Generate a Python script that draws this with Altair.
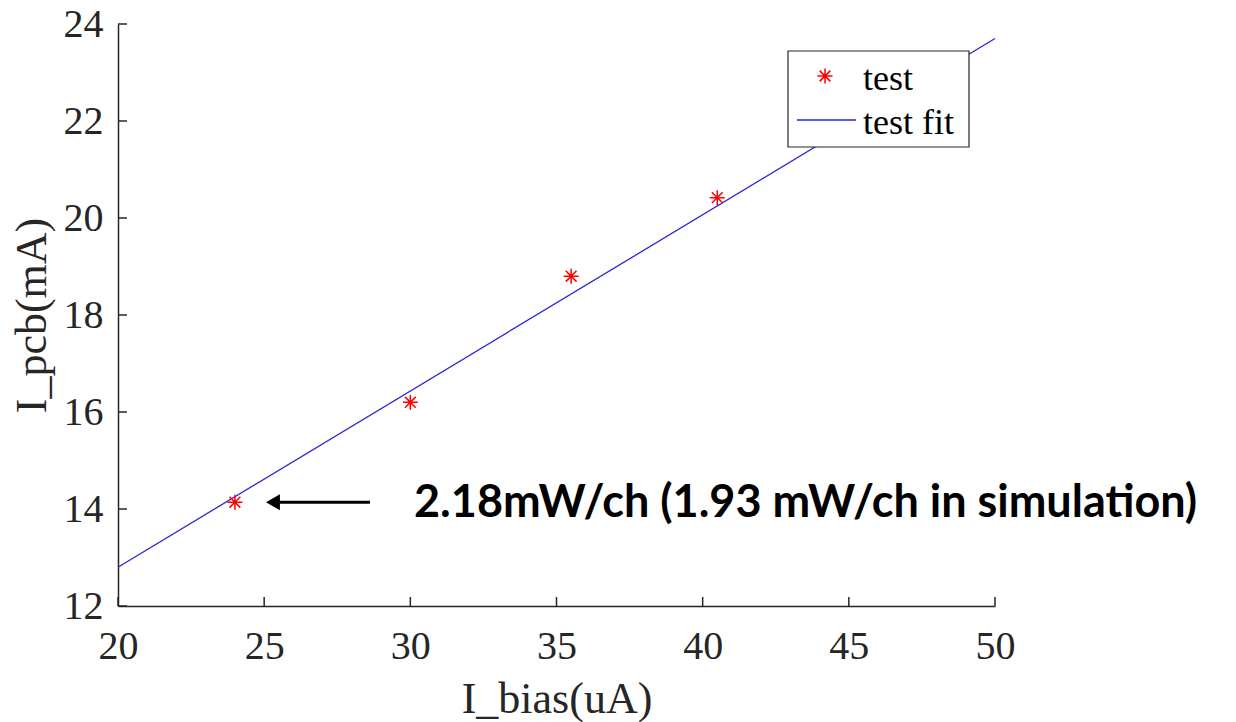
import altair as alt
import pandas as pd

# ---- data ----
x_vals = [24.0, 30.0, 35.5, 40.5]
y_vals = [14.14, 16.2, 18.8, 20.42]
fit_x = [20.0, 50.0]
fit_y = [12.8, 23.7]
x_ticks = [20, 25, 30, 35, 40, 45, 50]
y_ticks = [12, 14, 16, 18, 20, 22, 24]
legend_labels = ["test", "test fit"]
annotation_text = "2.18mW/ch (1.93 mW/ch in simulation)"
arrow_from = [28.62, 14.14]
arrow_to = [25.0, 14.14]

W, H = 877, 582
SERIF = "Liberation Serif"
INK = "#262626"
RED = "#ff0000"
BLUE = "#2828d0"
STAR = "M0,-1L0,1M-1,0L1,0M-0.72,-0.72L0.72,0.72M-0.72,0.72L0.72,-0.72"

xs = alt.Scale(domain=[20, 50], nice=False, zero=False)
ys = alt.Scale(domain=[12, 24], nice=False, zero=False)

pts = pd.DataFrame({"x": x_vals, "y": y_vals})
fit = pd.DataFrame({"x": fit_x, "y": fit_y})
xt = pd.DataFrame({"v": x_ticks})
yt = pd.DataFrame({"v": y_ticks})
one = pd.DataFrame({"a": [0]})

xaxis = alt.Axis(values=x_ticks, tickSize=0, labelFont=SERIF, labelFontSize=40,
                 labelColor=INK, labelPadding=20, domainColor=INK, domainWidth=1.5,
                 grid=False, title="I_bias(uA)", titleFont=SERIF, titleFontSize=44,
                 titleFontWeight="normal", titleColor=INK, titleY=106,
                 titleBaseline="alphabetic", labelFlush=False)
yaxis = alt.Axis(values=y_ticks, tickSize=0, labelFont=SERIF, labelFontSize=40,
                 labelColor=INK, labelPadding=15, domainColor=INK, domainWidth=1.5,
                 grid=False, title="I_pcb(mA)", titleFont=SERIF, titleFontSize=44,
                 titleFontWeight="normal", titleColor=INK, titleAngle=270,
                 titleX=-73, titleY=H / 2, titleAlign="center",
                 titleBaseline="alphabetic", labelFlush=False)

fit_line = alt.Chart(fit).mark_line(color=BLUE, strokeWidth=1.3).encode(
    x=alt.X("x:Q", scale=xs, axis=xaxis),
    y=alt.Y("y:Q", scale=ys, axis=yaxis),
)

points = alt.Chart(pts).mark_point(shape=STAR, size=225, color=RED, strokeWidth=1.5,
                                   filled=False, opacity=1).encode(
    x=alt.X("x:Q", scale=xs), y=alt.Y("y:Q", scale=ys))

# inward ticks
xticks = alt.Chart(xt).mark_rule(color=INK, strokeWidth=1.5).encode(
    x=alt.X("v:Q", scale=xs), y=alt.value(H), y2=alt.value(H - 9))
yticks = alt.Chart(yt).mark_rule(color=INK, strokeWidth=1.5).encode(
    y=alt.Y("v:Q", scale=ys), x=alt.value(0), x2=alt.value(9))

# annotation arrow + text
arr = pd.DataFrame({"x": [arrow_from[0]], "y": [arrow_from[1]],
                    "x2": [arrow_to[0] + 0.45]})
arrow_line = alt.Chart(arr).mark_rule(color="black", strokeWidth=3).encode(
    x=alt.X("x:Q", scale=xs), x2="x2:Q", y=alt.Y("y:Q", scale=ys))
head = pd.DataFrame({"x": [arrow_to[0] + 0.3], "y": [arrow_to[1]]})
arrow_head = alt.Chart(head).mark_point(shape="triangle-left", size=260, filled=True,
                                        color="black", opacity=1).encode(
    x=alt.X("x:Q", scale=xs), y=alt.Y("y:Q", scale=ys))
ann = pd.DataFrame({"t": [annotation_text]})
ann_text = alt.Chart(ann).mark_text(font="Lato", fontWeight="bold", fontSize=45,
                                    color="black", align="left",
                                    baseline="alphabetic").encode(
    text="t:N", x=alt.value(296), y=alt.value(493))

# legend (drawn by hand, MATLAB style)
leg_box = alt.Chart(one).mark_rect(
    fill="white", stroke=INK, strokeWidth=1.2).encode(
    x=alt.value(670), x2=alt.value(851), y=alt.value(27), y2=alt.value(123))
leg_star = alt.Chart(one).mark_point(
    shape=STAR, size=225, color=RED, strokeWidth=1.5, filled=False, opacity=1).encode(
    x=alt.value(707), y=alt.value(52))
leg_line = alt.Chart(one).mark_rule(
    color=BLUE, strokeWidth=1.3).encode(
    x=alt.value(679), x2=alt.value(738), y=alt.value(96))
leg_text1 = alt.Chart(pd.DataFrame({"label": [legend_labels[0]]})).mark_text(
    font=SERIF, fontSize=36, color="black", align="left", baseline="alphabetic"
).encode(text="label:N", x=alt.value(745), y=alt.value(66))
leg_text2 = alt.Chart(pd.DataFrame({"label": [legend_labels[1]]})).mark_text(
    font=SERIF, fontSize=36, color="black", align="left", baseline="alphabetic"
).encode(text="label:N", x=alt.value(745), y=alt.value(110))

chart = alt.layer(
    fit_line, points, xticks, yticks, arrow_line, arrow_head, ann_text,
    leg_box, leg_star, leg_line, leg_text1, leg_text2
).properties(
    width=W, height=H,
    padding={"left": 118, "top": 24, "right": 241, "bottom": 116},
    autosize=alt.AutoSizeParams(type="none"),
    background="white",
).configure_view(stroke=None)

chart.save("out.html", embed_options={"renderer": "svg", "actions": False})
